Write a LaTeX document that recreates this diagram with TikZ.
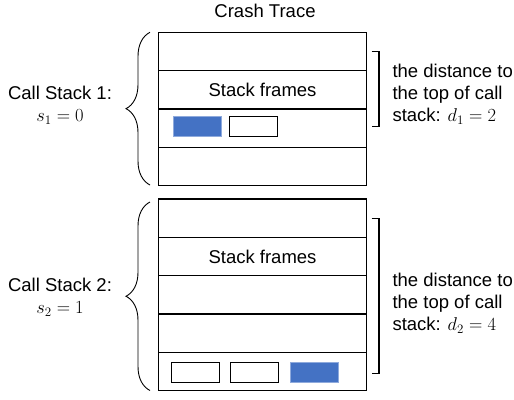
\RequirePackage{fix-cm}
\documentclass[tikz,border=0pt]{standalone}
\usepackage[no-math]{fontspec}
\setmainfont{Liberation Sans}
\usetikzlibrary{decorations.pathreplacing}
\definecolor{frameblue}{HTML}{4472C4}
\definecolor{edgeblue}{HTML}{8FAADC}
\begin{document}
\begin{tikzpicture}[x=1pt,y=-1pt,
  font=\fontsize{18.5}{22}\selectfont,
  row/.style={draw,line width=1.2pt,minimum width=208.4pt,minimum height=38.3pt,inner sep=0pt},
  fr/.style={draw,line width=1.1pt,minimum width=48pt,minimum height=20pt,inner sep=0pt},
  frb/.style={fr,fill=frameblue,draw=edgeblue,line width=0.8pt},
  curly/.style={decorate,decoration={brace,amplitude=24pt},line width=0.9pt},
  sq/.style={line width=1.1pt}]
\useasboundingbox (0,0) rectangle (514,399);
\node (title) at (265,11) {Crash Trace};
% call stack 1
\foreach \i in {1,...,4}
  \node[row] (a\i) at (262.5,{32.3+38.3*(\i-0.5)}) {};
\node at (a2) {Stack frames};
\node[frb] (a31) at (197.3,126.7) {};
\node[fr] (a32) at (253.8,126.7) {};
\draw[curly] (150,185) -- (150,32.3);
\node[align=center] (cs1) at (60,105.5) {Call Stack 1:\\$s_1=0$};
\draw[sq] (371.7,51.7) -- (379,51.7) -- (379,126.7) -- (371.7,126.7);
\node[align=left,anchor=west] (d1) at (389,94) {the distance to\\the top of call\\stack: $d_1=2$};
% call stack 2
\foreach \i in {1,...,5}
  \node[row] (b\i) at (262.5,{199+38.3*(\i-0.5)}) {};
\node at (b2) {Stack frames};
\node[fr] (b51) at (195.2,372.5) {};
\node[fr] (b52) at (254.8,372.5) {};
\node[frb] (b53) at (314.3,372.5) {};
\draw[curly] (150,390.5) -- (150,202);
\node[align=center] (cs2) at (60,297) {Call Stack 2:\\$s_2=1$};
\draw[sq] (371.7,218.3) -- (379,218.3) -- (379,373.3) -- (371.7,373.3);
\node[align=left,anchor=west] (d2) at (389,303) {the distance to\\the top of call\\stack: $d_2=4$};
\end{tikzpicture}
\end{document}
